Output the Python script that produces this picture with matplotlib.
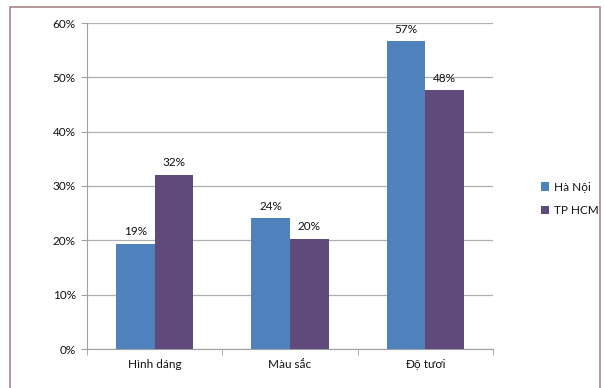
import matplotlib
matplotlib.use("Agg")
import matplotlib.pyplot as plt
import numpy as np
from matplotlib.patches import Rectangle
from matplotlib.ticker import FixedLocator

categories = ["Hình dáng", "Màu sắc", "Độ tươi"]
series_names = ["Hà Nội", "TP HCM"]
hanoi = [19.4, 24.1, 56.6]
hcm = [32.1, 20.3, 47.6]
labels_hanoi = ["19%", "24%", "57%"]
labels_hcm = ["32%", "20%", "48%"]
yticks = [0, 10, 20, 30, 40, 50, 60]
ytick_labels = ["0%", "10%", "20%", "30%", "40%", "50%", "60%"]

plt.rcParams['font.family'] = ['Lato', 'DejaVu Sans']
plt.rcParams['text.color'] = '#111111'
plt.rcParams['xtick.labelcolor'] = '#111111'
plt.rcParams['ytick.labelcolor'] = '#111111'

fig = plt.figure(figsize=(6.04, 3.88), dpi=100)
ax = fig.add_axes([87/604, 1-349/388, (493-87)/604, (349-23)/388])

fig.patches.append(Rectangle((10/604, -0.01), (600-10)/604, 1-7/388+0.01,
                             transform=fig.transFigure, fill=False,
                             edgecolor="#a98585", linewidth=1.2))

x = np.arange(len(categories))
w = 0.285
c1, c2 = "#4F81BD", "#604A7B"
b1 = ax.bar(x - w/2, hanoi, w, color=c1, label=series_names[0], zorder=3)
b2 = ax.bar(x + w/2, hcm, w, color=c2, label=series_names[1], zorder=3)

fs = 8.5
for xi, v, t in zip(x - w/2, hanoi, labels_hanoi):
    ax.text(xi, v + 1.2, t, ha="center", va="bottom", fontsize=fs)
for xi, v, t in zip(x + w/2, hcm, labels_hcm):
    ax.text(xi, v + 1.2, t, ha="center", va="bottom", fontsize=fs)

ax.set_xlim(-0.5, 2.5)
ax.set_ylim(0, 60)
ax.set_yticks(yticks)
ax.set_yticklabels(ytick_labels, fontsize=fs)
ax.set_xticks(x)
ax.set_xticklabels(categories, fontsize=fs)
ax.xaxis.set_minor_locator(FixedLocator([-0.5, 0.5, 1.5, 2.5]))
ax.tick_params(axis="x", which="major", length=0, pad=7)
ax.tick_params(axis="x", which="minor", length=4, color="#a0a0a0")
ax.tick_params(axis="y", length=4, color="#a0a0a0", pad=4)
ax.grid(axis="y", color="#b0b0b0", linewidth=0.9, zorder=0)
for s in ["top", "right"]:
    ax.spines[s].set_visible(False)
for s in ["left", "bottom"]:
    ax.spines[s].set_color("#a0a0a0")

fig.legend(handles=[b1, b2], labels=series_names, loc="center left",
           bbox_to_anchor=(530/604, 1-199/388), frameon=False, fontsize=fs,
           handlelength=0.7, handleheight=0.7, handletextpad=0.4,
           labelspacing=1.1)

fig.savefig("out.png", dpi=100)
